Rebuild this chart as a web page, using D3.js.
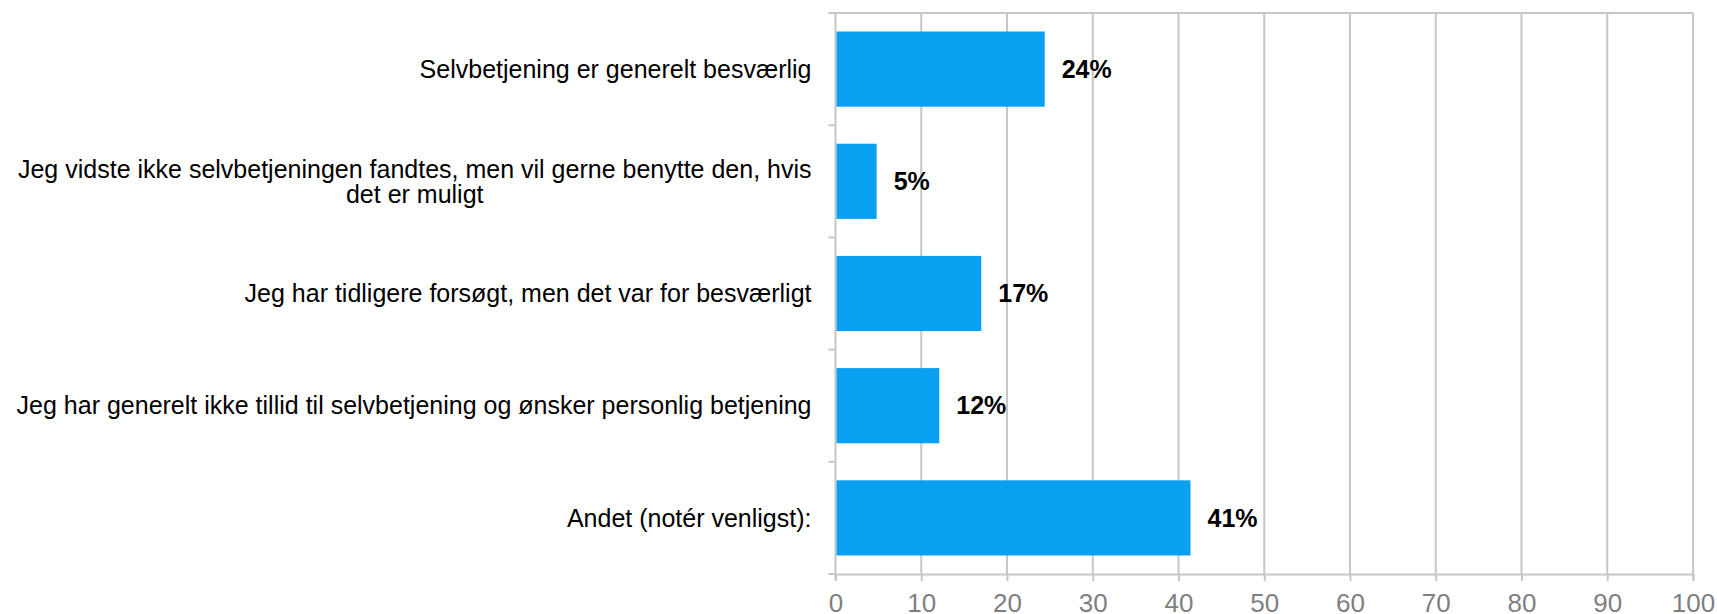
<!DOCTYPE html>
<html>
<head>
<meta charset="utf-8">
<script src="https://cdn.jsdelivr.net/npm/d3@7"></script>
<style>
  body { margin: 0; background: #fff; }
  svg { font-family: "Liberation Sans", Arial, sans-serif; }
  .cat-label { font-size: 25px; fill: #000; }
  .value-label { font-size: 25px; font-weight: bold; fill: #000; }
  .x-axis text { font-size: 26px; fill: #7f7f7f; }
</style>
</head>
<body>
<svg id="chart" width="1717" height="614"></svg>
<script>
// DATA
const categories = [
    "Selvbetjening er generelt besværlig",
    "Jeg vidste ikke selvbetjeningen fandtes, men vil gerne benytte den, hvis det er muligt",
    "Jeg har tidligere forsøgt, men det var for besværligt",
    "Jeg har generelt ikke tillid til selvbetjening og ønsker personlig betjening",
    "Andet (notér venligst):"
];
const values = [24.4, 4.8, 17.0, 12.1, 41.4];
const xTicks = [0, 10, 20, 30, 40, 50, 60, 70, 80, 90, 100];

// SETUP
const margin = { top: 13, right: 24, bottom: 40, left: 835.5 },
    width = 1717 - margin.left - margin.right,
    height = 614 - margin.top - margin.bottom;

const gridColor = "#c6c6c6";
const barColor = "#0aa0f2";

const svg = d3.select("#chart")
    .append("g")
    .attr("transform", `translate(${margin.left},${margin.top})`);

const data = categories.map((c, i) => ({ cat: c, value: values[i] }));

// SCALES
const x = d3.scaleLinear()
    .domain([0, 100])
    .range([0, width]);

const y = d3.scaleBand()
    .domain(categories)
    .range([0, height])
    .paddingInner(0.33)
    .paddingOuter(0.165);

// GRID LINES
svg.append("g")
    .selectAll("line")
    .data(xTicks.slice(1))
    .enter()
    .append("line")
    .attr("x1", d => x(d))
    .attr("x2", d => x(d))
    .attr("y1", 0)
    .attr("y2", height)
    .attr("stroke", gridColor)
    .attr("stroke-width", 2);

// top frame line
svg.append("line")
    .attr("x1", -7)
    .attr("x2", width)
    .attr("y1", 0)
    .attr("y2", 0)
    .attr("stroke", gridColor)
    .attr("stroke-width", 2);

// Y AXIS (ticks at category boundaries)
const step = height / categories.length;
svg.append("g")
    .selectAll("line")
    .data(d3.range(categories.length + 1))
    .enter()
    .append("line")
    .attr("x1", -7)
    .attr("x2", 0)
    .attr("y1", d => d * step)
    .attr("y2", d => d * step)
    .attr("stroke", gridColor)
    .attr("stroke-width", 2);

svg.append("line")
    .attr("x1", 0)
    .attr("x2", 0)
    .attr("y1", 0)
    .attr("y2", height + 7)
    .attr("stroke", gridColor)
    .attr("stroke-width", 2);

// X AXIS
const xAxis = svg.append("g")
    .attr("class", "x-axis")
    .attr("transform", `translate(0,${height})`)
    .call(d3.axisBottom(x)
        .tickValues(xTicks)
        .tickSize(7)
        .tickPadding(20)
        .tickFormat(d3.format("d")));

xAxis.attr("font-family", null).attr("font-size", null);
xAxis.select(".domain")
    .attr("stroke", gridColor)
    .attr("stroke-width", 2);
xAxis.selectAll(".tick line")
    .attr("stroke", gridColor)
    .attr("stroke-width", 2);
// baseline near the bottom edge, as in the original
xAxis.selectAll(".tick text")
    .attr("dy", "11px");

// BARS
svg.selectAll("rect.bar")
    .data(data)
    .enter()
    .append("rect")
    .attr("class", "bar")
    .attr("x", x(0) + 1)
    .attr("y", d => y(d.cat))
    .attr("width", d => x(d.value) - x(0) - 1)
    .attr("height", y.bandwidth())
    .attr("fill", barColor);

// VALUE LABELS
svg.selectAll("text.value-label")
    .data(data)
    .enter()
    .append("text")
    .attr("class", "value-label")
    .attr("x", d => x(d.value) + 17)
    .attr("y", d => y(d.cat) + y.bandwidth() / 2)
    .attr("dy", "0.35em")
    .text(d => Math.round(d.value) + "%");

// CATEGORY LABELS (wrapped, block right aligned, lines centered)
const labelRight = -24;
const maxWidth = 810;
const lineHeight = 25;

data.forEach(d => {
    const t = svg.append("text")
        .attr("class", "cat-label")
        .attr("text-anchor", "middle");
    const words = d.cat.split(" ");
    let lines = [];
    let line = [];
    const probe = svg.append("text").attr("class", "cat-label");
    words.forEach(w => {
        const test = line.concat(w).join(" ");
        probe.text(test);
        if (probe.node().getComputedTextLength() > maxWidth && line.length) {
            lines.push(line.join(" "));
            line = [w];
        } else {
            line.push(w);
        }
    });
    lines.push(line.join(" "));
    const widths = lines.map(l => { probe.text(l); return probe.node().getComputedTextLength(); });
    probe.remove();
    const blockW = d3.max(widths);
    const cx = labelRight - blockW / 2;
    const cy = y(d.cat) + y.bandwidth() / 2;
    lines.forEach((l, i) => {
        t.append("tspan")
            .attr("x", cx)
            .attr("y", cy + (i - (lines.length - 1) / 2) * lineHeight)
            .attr("dy", "0.35em")
            .text(l);
    });
});
</script>
</body>
</html>
